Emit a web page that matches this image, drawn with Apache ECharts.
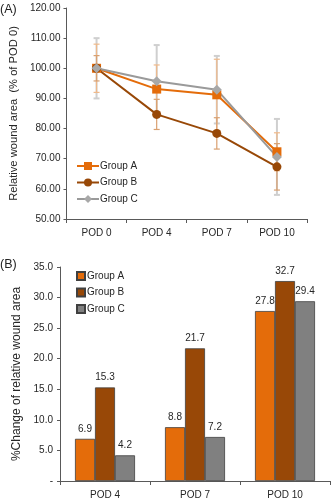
<!DOCTYPE html>
<html><head><meta charset="utf-8">
<script src="https://cdn.jsdelivr.net/npm/echarts@6/dist/echarts.min.js"></script>
<style>html,body{margin:0;padding:0;background:#fff}#c{width:332px;height:500px}</style>
</head><body><div id="c"></div>
<script>
// Panel A data
var catsA = ['POD 0', 'POD 4', 'POD 7', 'POD 10'];
var groupA = [100, 93.1, 91.2, 72.3];
var groupB = [100, 84.7, 78.4, 67.3];
var groupC = [100, 95.7, 92.9, 70.6];
var errA = [8.0, 8.0, 11.8, 6.3];
var errB = [4.2, 5.0, 5.2, 7.7];
var errC = [10.0, 12.0, 11.2, 12.6];
var yTicksA = [50, 60, 70, 80, 90, 100, 110, 120];
// Panel B data
var catsB = ['POD 4', 'POD 7', 'POD 10'];
var changeA = [6.9, 8.8, 27.8];
var changeB = [15.3, 21.7, 32.7];
var changeC = [4.2, 7.2, 29.4];
var yTicksB = [0, 5, 10, 15, 20, 25, 30, 35];

var FONT = 'Liberation Sans';
var colA = '#E46C0A', colB = '#984807', colCLine = '#9a9a9a', colCBar = '#808080';
var axisCol = '#595959', txtCol = '#262626';

function errData(vals, errs) {
  return vals.map(function (v, i) { return [i, v - errs[i], v + errs[i]]; });
}
function errSeries(vals, errs, color, width, z) {
  return {
    type: 'custom', xAxisIndex: 0, yAxisIndex: 0, z: z, silent: true,
    data: errData(vals, errs),
    renderItem: function (params, api) {
      var lo = api.coord([api.value(0), api.value(1)]);
      var hi = api.coord([api.value(0), api.value(2)]);
      var hw = 3;
      var st = { stroke: color, lineWidth: width };
      return { type: 'group', children: [
        { type: 'line', shape: { x1: lo[0], y1: lo[1], x2: hi[0], y2: hi[1] }, style: st },
        { type: 'line', shape: { x1: lo[0] - hw, y1: lo[1], x2: lo[0] + hw, y2: lo[1] }, style: st },
        { type: 'line', shape: { x1: hi[0] - hw, y1: hi[1], x2: hi[0] + hw, y2: hi[1] }, style: st }
      ] };
    }
  };
}

var chart = echarts.init(document.getElementById('c'), null, { renderer: 'canvas' });
var lbl = { fontFamily: FONT, fontSize: 10, color: txtCol };
chart.setOption({
  animation: false,
  textStyle: { fontFamily: FONT },
  graphic: [
    { type: 'text', left: 0, top: 3, style: { text: '(A)', fontFamily: FONT, fontSize: 12.5, fill: '#222' } },
    { type: 'text', left: 0, top: 258, style: { text: '(B)', fontFamily: FONT, fontSize: 12.5, fill: '#222' } }
  ],
  grid: [
    { left: 60, right: 25, top: 8, height: 211 },
    { left: 60, right: 2, top: 267, height: 214 }
  ],
  legend: [
    { orient: 'vertical', left: 71, top: 156, itemWidth: 22, itemHeight: 10, itemGap: 6.5,
      textStyle: { fontFamily: FONT, fontSize: 10, color: txtCol, padding: [0, 0, 0, -4] },
      data: ['Group A', 'Group B', 'Group C'] },
    { orient: 'vertical', left: 71, top: 266, itemWidth: 8, itemHeight: 8, itemGap: 6.5,
      textStyle: { fontFamily: FONT, fontSize: 10, color: txtCol, padding: [0, 0, 0, -3] },
      data: [
        { name: 'Group A ', icon: 'rect' },
        { name: 'Group B ', icon: 'rect' },
        { name: 'Group C ', icon: 'rect' }
      ] }
  ],
  xAxis: [
    { type: 'category', gridIndex: 0, data: catsA, boundaryGap: true,
      axisLine: { lineStyle: { color: axisCol, width: 1 } },
      axisTick: { show: true, length: 4, lineStyle: { color: axisCol } },
      axisLabel: Object.assign({ margin: 9 }, lbl) },
    { type: 'category', gridIndex: 1, data: catsB, boundaryGap: true,
      axisLine: { lineStyle: { color: axisCol, width: 1 } },
      axisTick: { show: true, length: 4, lineStyle: { color: axisCol } },
      axisLabel: Object.assign({ margin: 9 }, lbl) }
  ],
  yAxis: [
    { type: 'value', gridIndex: 0, min: yTicksA[0], max: yTicksA[yTicksA.length - 1], interval: 10,
      name: 'Relative wound area  (% of POD 0)', nameLocation: 'middle', nameGap: 45, nameRotate: 90,
      nameTextStyle: { fontFamily: FONT, fontSize: 11.2, color: txtCol },
      axisLine: { show: true, lineStyle: { color: axisCol } },
      axisTick: { show: true, length: 3, lineStyle: { color: axisCol } },
      splitLine: { show: false },
      axisLabel: Object.assign({ margin: 6, formatter: function (v) { return v.toFixed(2); } }, lbl) },
    { type: 'value', gridIndex: 1, min: yTicksB[0], max: yTicksB[yTicksB.length - 1], interval: 5,
      name: '%Change of relative wound area', nameLocation: 'middle', nameGap: 36, nameRotate: 90,
      nameTextStyle: { fontFamily: FONT, fontSize: 12, color: txtCol },
      axisLine: { show: true, lineStyle: { color: axisCol } },
      axisTick: { show: true, length: 3, lineStyle: { color: axisCol } },
      splitLine: { show: false },
      axisLabel: Object.assign({ margin: 7, formatter: function (v) { return v === 0 ? '-' : v.toFixed(1); } }, lbl) }
  ],
  series: [
    errSeries(groupC, errC, '#cfcfcf', 2, 1),
    errSeries(groupA, errA, '#efb98a', 1.2, 2),
    errSeries(groupB, errB, '#d9a070', 1.2, 2),
    { name: 'Group A', type: 'line', xAxisIndex: 0, yAxisIndex: 0, data: groupA, z: 3,
      symbol: 'rect', symbolSize: 9, color: colA,
      lineStyle: { color: colA, width: 2 }, itemStyle: { color: colA } },
    { name: 'Group B', type: 'line', xAxisIndex: 0, yAxisIndex: 0, data: groupB, z: 3,
      symbol: 'circle', symbolSize: 9, color: colB,
      lineStyle: { color: colB, width: 2 }, itemStyle: { color: colB } },
    { name: 'Group C', type: 'line', xAxisIndex: 0, yAxisIndex: 0, data: groupC, z: 3,
      symbol: 'diamond', symbolSize: 10, color: colCLine,
      lineStyle: { color: colCLine, width: 2 }, itemStyle: { color: '#a8a8a8' } },
    { name: 'Group A ', type: 'bar', xAxisIndex: 1, yAxisIndex: 1, data: changeA,
      barWidth: 20, barGap: '0%', color: colA,
      itemStyle: { color: colA, borderColor: '#404040', borderWidth: 0.8 },
      label: { show: true, position: 'top', distance: 5, fontFamily: FONT, fontSize: 10, color: txtCol,
        formatter: function (p) { return p.value.toFixed(1); } } },
    { name: 'Group B ', type: 'bar', xAxisIndex: 1, yAxisIndex: 1, data: changeB,
      barWidth: 20, barGap: '0%', color: colB,
      itemStyle: { color: colB, borderColor: '#404040', borderWidth: 0.8 },
      label: { show: true, position: 'top', distance: 5, fontFamily: FONT, fontSize: 10, color: txtCol,
        formatter: function (p) { return p.value.toFixed(1); } } },
    { name: 'Group C ', type: 'bar', xAxisIndex: 1, yAxisIndex: 1, data: changeC,
      barWidth: 20, barGap: '0%', color: colCBar,
      itemStyle: { color: colCBar, borderColor: '#404040', borderWidth: 0.8 },
      label: { show: true, position: 'top', distance: 5, fontFamily: FONT, fontSize: 10, color: txtCol,
        formatter: function (p) { return p.value.toFixed(1); } } }
  ]
});
</script>
</body></html>
